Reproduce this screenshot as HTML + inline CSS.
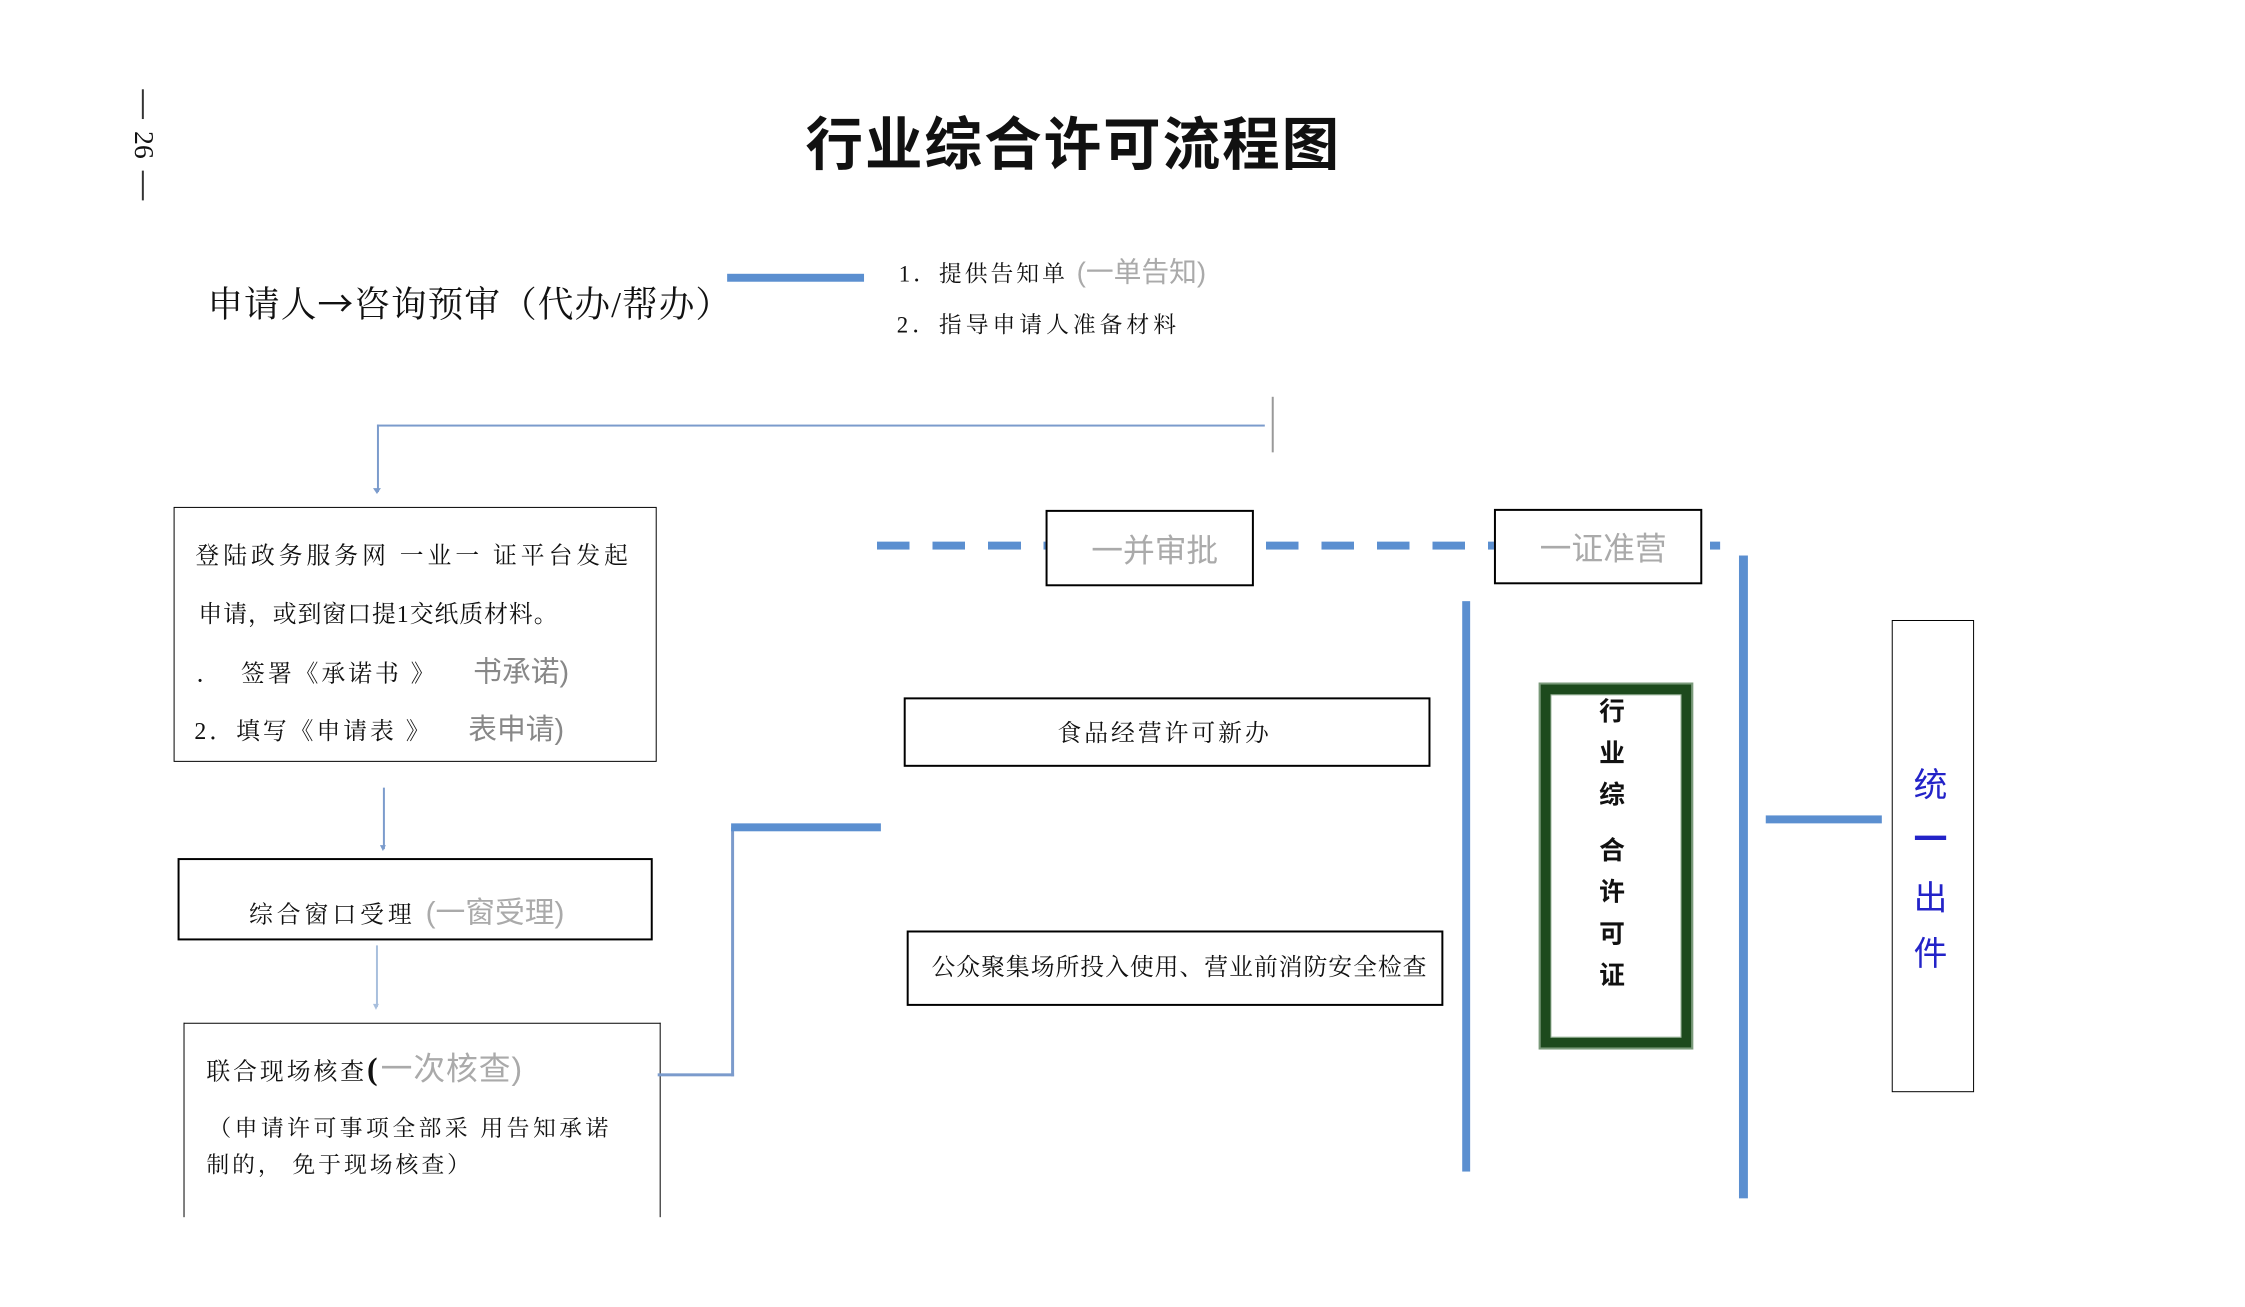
<!DOCTYPE html>
<html><head><meta charset="utf-8"><style>
body{margin:0;width:2245px;height:1307px;background:#fff;position:relative;overflow:hidden;font-family:"Liberation Serif","Noto Serif CJK SC",serif;color:#111}
#w{position:absolute;left:0;top:0;width:2245px;height:1307px;transform:scale(0.992);transform-origin:0 0}
.a{position:absolute;white-space:nowrap}
.box{position:absolute;border:2px solid #000;box-sizing:border-box;background:#fff}
.g{color:#aaa;font-family:"Liberation Sans","Noto Sans CJK SC",sans-serif}
.bl{position:absolute;background:#5b8fd0}
.tl{position:absolute;background:#7b9bcc}
</style></head><body><div id="w">
<div class="a" style="left:143px;top:90px;width:1.5px;height:30px;background:#333"></div>
<div class="a" style="top:132px;font-size:28px;transform:rotate(90deg);transform-origin:left top;left:160px">26</div>
<div class="a" style="left:143px;top:172px;width:1.5px;height:30px;background:#333"></div>

<div class="a" style="left:812px;top:99px;font-size:58px;font-weight:bold;font-family:'Liberation Sans','Noto Sans CJK SC',sans-serif;letter-spacing:2px">行业综合许可流程图</div>

<div class="a" style="left:209px;top:278px;font-size:36px;letter-spacing:1px">申请人<span style="font-family:'Noto Sans CJK SC',sans-serif">→</span>咨询预审（代办/帮办）</div>
<div class="bl" style="left:733px;top:276px;width:138px;height:8px"></div>
<div class="a" style="left:906px;top:253px;font-size:23px;letter-spacing:3px">1．提供告知单 <span class="g" style="font-size:28px;letter-spacing:0">(一单告知)</span></div>
<div class="a" style="left:904px;top:309px;font-size:23px;letter-spacing:4px">2．指导申请人准备材料</div>

<div class="tl" style="left:380px;top:428px;width:895px;height:2px"></div>
<div class="a" style="left:1282px;top:400px;width:1.5px;height:56px;background:#999"></div>
<div class="tl" style="left:380px;top:428px;width:1.5px;height:68px"></div>
<div class="a" style="left:376px;top:492px;width:0;height:0;border-left:4px solid transparent;border-right:4px solid transparent;border-top:6px solid #7b9bcc"></div>

<div class="box" style="left:175px;top:511px;width:487px;height:257px;border-width:1.5px"></div>
<div class="a" style="left:197px;top:540px;font-size:24px;letter-spacing:4px">登陆政务服务网 一业一 证平台发起</div>
<div class="a" style="left:200px;top:599px;font-size:24px;letter-spacing:1px">申请，或到窗口提1交纸质材料。</div>
<div class="a" style="left:198px;top:654px;font-size:24px;letter-spacing:3px">．&nbsp; 签署《承诺书 》&nbsp;&nbsp;&nbsp; <span class="g" style="color:#888;font-size:29px;letter-spacing:0">书承诺)</span></div>
<div class="a" style="left:196px;top:712px;font-size:24px;letter-spacing:3px">2．填写《申请表 》&nbsp;&nbsp;&nbsp; <span class="g" style="color:#888;font-size:29px;letter-spacing:0">表申请)</span></div>

<div class="tl" style="left:386px;top:794px;width:1.5px;height:62px"></div>
<div class="a" style="left:383px;top:852px;border-left:3.5px solid transparent;border-right:3.5px solid transparent;border-top:6px solid #7b9bcc"></div>

<div class="box" style="left:179px;top:865px;width:479px;height:83px;border-width:2.5px"></div>
<div class="a" style="left:251px;top:895px;font-size:24px;letter-spacing:4px">综合窗口受理 <span class="g" style="font-size:30px;letter-spacing:0">(一窗受理)</span></div>

<div class="tl" style="left:379px;top:953px;width:1.5px;height:62px;background:#a8bfdd"></div>
<div class="a" style="left:376px;top:1012px;border-left:3.5px solid transparent;border-right:3.5px solid transparent;border-top:6px solid #a8bfdd"></div>

<div class="a" style="left:185px;top:1031px;width:481px;height:196px;border:1.5px solid #000;border-bottom:none;box-sizing:border-box"></div>
<div class="a" style="left:208px;top:1052px;font-size:24px;letter-spacing:3px">联合现场核查<span style="font-size:32px;font-weight:bold">(</span><span class="g" style="font-size:32px;letter-spacing:1px">一次核查)</span></div>
<div class="a" style="left:210px;top:1119px;font-size:23px;letter-spacing:3.5px">（申请许可事项全部采 用告知承诺</div>
<div class="a" style="left:208px;top:1156px;font-size:23px;letter-spacing:3px">制的， 免于现场核查）</div>

<div class="tl" style="left:663px;top:1082px;width:77px;height:3px"></div>
<div class="tl" style="left:737px;top:834px;width:3px;height:251px"></div>
<div class="bl" style="left:737px;top:830px;width:151px;height:8px"></div>

<div class="a" style="left:884px;top:546px;width:850px;height:8px;background:repeating-linear-gradient(90deg,#5b8fd0 0 33px,transparent 33px 56px)"></div>

<div class="box" style="left:1054px;top:514px;width:210px;height:77px"></div>
<div class="a g" style="left:1100px;top:530px;font-size:32px">一并审批</div>
<div class="box" style="left:1506px;top:513px;width:210px;height:76px"></div>
<div class="a g" style="left:1552px;top:528px;font-size:32px">一证准营</div>

<div class="box" style="left:911px;top:703px;width:531px;height:70px;border-width:2.5px"></div>
<div class="a" style="left:1066px;top:719px;font-size:24px;letter-spacing:3px">食品经营许可新办</div>
<div class="box" style="left:914px;top:938px;width:541px;height:76px;border-width:2.5px"></div>
<div class="a" style="left:939px;top:955px;font-size:24px;letter-spacing:1px">公众聚集场所投入使用、营业前消防安全检查</div>

<div class="bl" style="left:1474px;top:606px;width:8px;height:575px"></div>
<div class="bl" style="left:1753px;top:560px;width:9px;height:648px"></div>
<div class="bl" style="left:1780px;top:822px;width:117px;height:8px"></div>

<div class="a" style="left:1553px;top:690px;width:152px;height:366px;box-sizing:border-box;border:10px solid #1d4a1d;outline:2px solid #7a9a7a;background:#fff"></div>
<div class="a" style="left:1563px;top:700px;width:132px;height:346px;box-sizing:border-box;border:1.5px solid #9ab59a"></div>
<div class="a" style="left:1612px;top:696px;font-size:26px;font-weight:bold;font-family:'Liberation Sans','Noto Sans CJK SC',sans-serif;line-height:42px;text-align:center">行<br>业<br>综<br><span style="display:block;height:14px"></span>合<br>许<br>可<br>证</div>

<div class="a" style="left:1907px;top:625px;width:83px;height:476px;border:1.5px solid #000;box-sizing:border-box"></div>
<div class="a" style="left:1929px;top:764px;font-size:34px;color:#2323c8;font-family:'Liberation Sans','Noto Sans CJK SC',sans-serif">统</div>
<div class="a" style="left:1929px;top:819px;font-size:34px;color:#2323c8;font-family:'Liberation Sans','Noto Sans CJK SC',sans-serif;font-weight:bold">一</div>
<div class="a" style="left:1929px;top:878px;font-size:34px;color:#2323c8;font-family:'Liberation Sans','Noto Sans CJK SC',sans-serif">出</div>
<div class="a" style="left:1929px;top:934px;font-size:34px;color:#2323c8;font-family:'Liberation Sans','Noto Sans CJK SC',sans-serif">件</div>
</div></body></html>
